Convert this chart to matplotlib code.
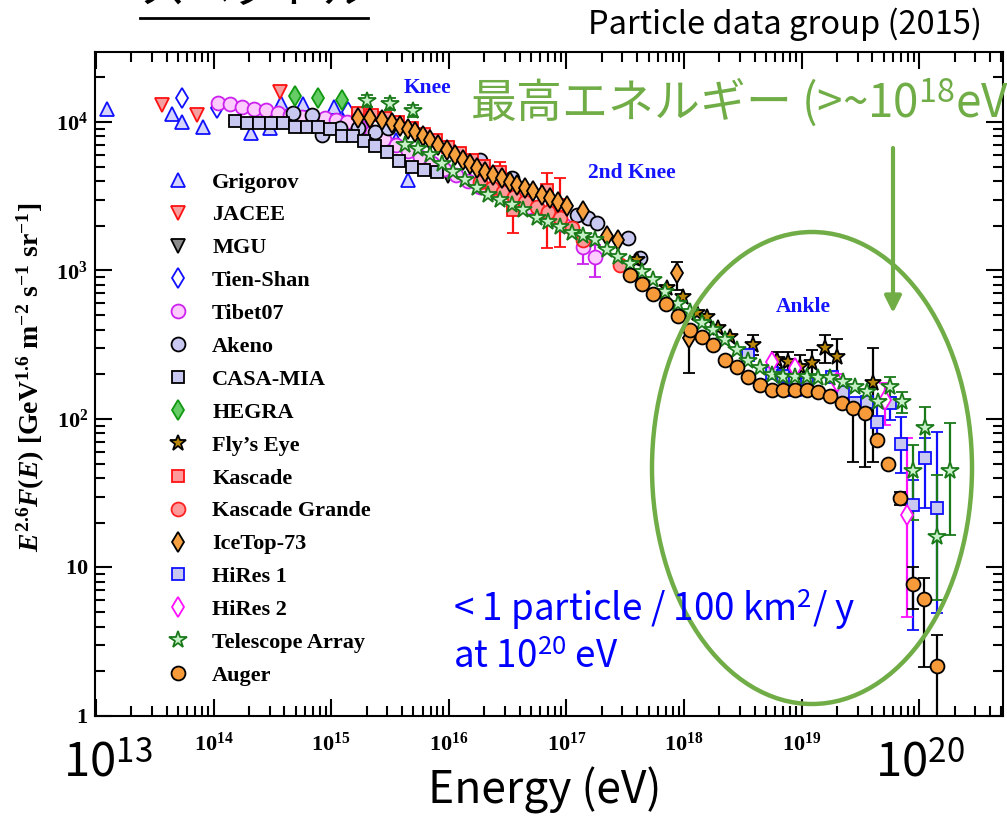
import numpy as np
import matplotlib
matplotlib.use('Agg')
import matplotlib.pyplot as plt
from matplotlib.lines import Line2D
from matplotlib.patches import Ellipse, FancyArrowPatch
from matplotlib.ticker import LogLocator, NullFormatter

plt.rcParams['mathtext.fontset'] = 'custom'
plt.rcParams['mathtext.rm'] = 'Liberation Serif:bold'
plt.rcParams['mathtext.bf'] = 'Liberation Serif:bold'
plt.rcParams['mathtext.it'] = 'Liberation Serif:italic:bold'
plt.rcParams['mathtext.sf'] = 'Noto Sans CJK JP'
plt.rcParams['font.family'] = ['Liberation Serif', 'DejaVu Sans']

nan = np.nan

# ---- data: energy (eV) and E^2.6 F(E) ----
grigorov_E = [1.24e13, 4.4e13, 5.4e13, 8.1e13, 2.08e14, 3.0e14, 3.74e14, 5.75e14, 1.06e15, 1.39e15, 3.56e15, 4.5e15]
grigorov_F = [1.22e4, 1.13e4, 1.0e4, 9.25e3, 8.4e3, 9.1e3, 1.34e4, 1.32e4, 1.26e4, 1.2e4, 7.57e3, 4.07e3]

jacee_E = [3.64e13, 7.2e13, 3.67e14]
jacee_F = [1.30e4, 1.11e4, 1.59e4]

mgu_E = [6.92e15, 9.84e15]
mgu_F = [4.9e3, 4.33e3]

tienshan_E = [5.38e13, 1.07e14, 1.39e15]
tienshan_F = [1.45e4, 1.24e4, 1.17e4]

tibet_E = [1.09e14, 1.38e14, 1.74e14, 2.21e14, 2.79e14, 3.53e14, 4.47e14, 5.65e14, 7.0e14, 8.85e14,
           1.10e15, 1.36e15, 1.76e15, 2.22e15, 2.81e15, 3.56e15, 4.5e15, 5.69e15, 7.2e15, 9.1e15,
           1.15e16, 1.46e16, 1.84e16, 2.33e16, 2.94e16, 3.72e16, 4.71e16, 5.97e16, 7.55e16, 9.55e16,
           1.38e17, 1.75e17]
tibet_F = [1.34e4, 1.32e4, 1.26e4, 1.22e4, 1.20e4, 1.15e4, 1.11e4, 1.08e4, 1.06e4, 1.06e4,
           1.03e4, 1.0e4, 9.25e3, 8.56e3, 7.69e3, 7.0e3, 6.38e3, 5.81e3, 5.3e3, 4.83e3,
           4.4e3, 4.01e3, 3.65e3, 3.38e3, 3.13e3, 2.89e3, 2.68e3, 2.44e3, 2.22e3, 2.02e3,
           1.44e3, 1.23e3]
tibet_lo = [nan] * 30 + [1.11e3, 904]
tibet_hi = [nan] * 30 + [1.71e3, 1.49e3]

akeno_E = [4.73e14, 6.87e14, 8.36e14, 1.19e15, 1.69e15, 2.36e15, 3.04e15, 1.84e16, 3.44e16,
           1.23e17, 1.53e17, 1.82e17, 3.34e17, 4.23e17]
akeno_F = [1.15e4, 1.11e4, 8.17e3, 9.12e3, 9.12e3, 8.56e3, 9.12e3, 5.55e3, 4.2e3,
           2.37e3, 2.26e3, 2.09e3, 1.66e3, 1.21e3]

casa_E = [1.52e14, 1.92e14, 2.43e14, 3.08e14, 3.89e14, 4.92e14, 6.22e14, 7.72e14, 9.77e14,
          1.24e15, 1.53e15, 1.90e15, 2.36e15, 2.98e15, 3.78e15, 4.86e15, 6.15e15, 7.94e15]
casa_F = [1.02e4, 9.85e3, 9.85e3, 9.85e3, 9.85e3, 9.25e3, 9.25e3, 9.25e3, 8.98e3,
          8.05e3, 8.05e3, 7.45e3, 6.89e3, 6.28e3, 5.46e3, 4.98e3, 4.75e3, 4.6e3]

hegra_E = [4.92e14, 7.72e14, 1.24e15]
hegra_F = [1.50e4, 1.45e4, 1.41e4]

flyseye_E = [3.98e17, 7.16e17, 9.8e17, 1.29e18, 1.57e18, 1.95e18, 2.46e18, 3.86e18, 6.18e18,
             7.66e18, 9.7e18, 1.22e19, 1.58e19, 2.0e19, 4.05e19]
flyseye_F = [1180, 762, 663, 517, 486, 410, 357, 315, 250, 242, 224, 238, 301, 262, 175]
flyseye_lo = [nan] * 7 + [270, 221, 207, 186, 195, 238, 189, 51.3]
flyseye_hi = [nan] * 7 + [368, 283, 282, 270, 291, 368, 346, 301]

kascade_E = [1.69e15, 2.22e15, 2.86e15, 3.70e15, 4.86e15, 6.15e15, 7.78e15, 9.84e15, 1.24e16,
             1.57e16, 1.99e16, 2.72e16, 3.52e16, 6.84e16, 8.83e16]
kascade_F = [1.15e4, 1.11e4, 1.06e4, 1.0e4, 9.12e3, 8.3e3, 7.57e3, 6.79e3, 6.18e3,
             5.55e3, 5.06e3, 4.6e3, 2.55e3, 3.48e3, 2.76e3]
kascade_lo = [nan] * 11 + [3.48e3, 1.79e3, 1.42e3, 1.44e3]
kascade_hi = [nan] * 11 + [5.38e3, 2.98e3, 4.54e3, 4.2e3]

kgrande_E = [1.84e16, 2.33e16, 2.89e16, 3.58e16, 4.44e16, 5.62e16, 6.98e16, 8.83e16, 1.12e17, 1.38e17, 2.86e17]
kgrande_F = [3.94e3, 3.59e3, 3.38e3, 3.13e3, 2.89e3, 2.68e3, 2.48e3, 2.26e3, 1.93e3, 1.60e3, 1.09e3]

icetop_E = [1.69e15, 2.14e15, 2.70e15, 3.29e15, 3.85e15, 4.50e15, 5.16e15, 6.04e15, 6.92e15, 8.09e15,
            9.66e15, 1.13e16, 1.32e16, 1.51e16, 1.74e16, 2.03e16, 2.38e16, 2.83e16, 3.31e16, 3.80e16,
            4.45e16, 5.2e16, 6.2e16, 7.26e16, 8.5e16, 1.01e17, 1.38e17, 2.21e17, 2.75e17, 8.73e17, 1.10e18]
icetop_F = [1.06e4, 1.06e4, 1.03e4, 9.85e3, 9.4e3, 8.98e3, 8.56e3, 8.05e3, 7.57e3, 7.0e3,
            6.48e3, 6.0e3, 5.55e3, 5.21e3, 4.9e3, 4.6e3, 4.4e3, 4.2e3, 3.94e3, 3.77e3,
            3.59e3, 3.43e3, 3.22e3, 3.08e3, 2.89e3, 2.72e3, 2.52e3, 1.71e3, 1.60e3, 962, 351]
icetop_lo = [nan] * 29 + [739, 204]
icetop_hi = [nan] * 29 + [1140, 397]

hires1_E = [3.50e18, 5.6e18, 6.95e18, 8.8e18, 1.11e19, 1.82e19, 2.25e19, 2.84e19, 3.60e19,
            4.38e19, 5.65e19, 7.0e19, 8.85e19, 1.12e20, 1.42e20]
hires1_F = [270, 204, 195, 157, 172, 192, 152, 128, 130, 95.4, 128, 67.9, 26.4, 54.6, 25.2]
hires1_lo = [nan] * 9 + [72, 98.5, 43.3, 3.8, 25.2, 4.94]
hires1_hi = [nan] * 9 + [134, 141, 103, 38.8, 75, 81.7]

hires2_E = [5.6e18, 8.8e18, 2.0e19, 5.12e19, 7.87e19]
hires2_F = [242, 220, 178, 134, 22.6]
hires2_lo = [nan, nan, 157, 91, 4.64]
hires2_hi = [nan, nan, 201, 175, 74.5]

ta_E = [2.01e15, 3.16e15, 4.97e15, 4.25e15, 5.47e15, 6.92e15, 8.75e15,
        1.09e16, 1.37e16, 1.74e16, 2.15e16, 2.72e16, 3.44e16, 4.27e16, 5.62e16, 6.98e16, 8.83e16,
        1.12e17, 1.38e17, 1.75e17, 2.21e17, 2.75e17, 3.47e17, 4.40e17, 5.45e17, 6.9e17, 8.9e17,
        1.12e18, 1.42e18, 1.77e18, 2.23e18, 2.83e18, 3.50e18, 4.43e18, 5.6e18, 6.95e18, 8.8e18,
        1.11e19, 1.38e19, 1.74e19, 2.25e19, 2.84e19, 3.60e19, 4.46e19, 5.65e19, 7.14e19, 8.85e19,
        1.12e20, 1.42e20, 1.83e20]
ta_F = [1.38e4, 1.32e4, 1.19e4, 7.0e3, 6.58e3, 6.0e3, 5.21e3,
        4.6e3, 4.07e3, 3.59e3, 3.22e3, 2.98e3, 2.76e3, 2.55e3, 2.26e3, 2.12e3, 1.96e3,
        1.79e3, 1.71e3, 1.60e3, 1.37e3, 1.23e3, 1.11e3, 977, 863, 716, 595,
        526, 443, 397, 340, 292, 246, 220, 198, 192, 192,
        192, 189, 189, 178, 164, 152, 130, 164, 130, 44.7,
        87, 16.0, 44.7]
ta_lo = [1.26e4, 1.20e4, 1.08e4] + [nan] * 41 + [141, 110, 20.9, 57, 6.0, 16.6]
ta_hi = [1.51e4, 1.45e4, 1.31e4] + [nan] * 41 + [192, 152, 66.8, 120, 42, 94]

auger_E = [3.47e17, 4.40e17, 5.45e17, 7.03e17, 8.9e17, 1.12e18, 1.42e18, 1.77e18, 2.23e18, 2.83e18,
           3.50e18, 4.43e18, 5.6e18, 6.95e18, 8.8e18, 1.11e19, 1.38e19, 1.74e19, 2.21e19, 2.74e19,
           3.46e19, 4.38e19, 5.43e19, 6.87e19, 8.85e19, 1.10e20, 1.42e20]
auger_F = [933, 811, 695, 595, 494, 397, 357, 315, 250, 224,
           192, 169, 157, 157, 157, 157, 152, 143, 128, 119,
           110, 72.3, 49.8, 29.4, 7.74, 6.14, 2.17]
auger_lo = [nan] * 19 + [51.3, 47.5, nan, nan, 26.4, 5.26, 2.14, 0.3]
auger_hi = [nan] * 19 + [134, 124, nan, nan, 32.2, 10.1, 8.5, 3.51]

x_major = [1e13, 1e14, 1e15, 1e16, 1e17, 1e18, 1e19, 1e20]
x_labels = ['', r'$10^{14}$', r'$10^{15}$', r'$10^{16}$', r'$10^{17}$', r'$10^{18}$', r'$10^{19}$', '']
y_major = [1, 10, 1e2, 1e3, 1e4]
y_labels = [r'$1$', r'$10$', r'$10^{2}$', r'$10^{3}$', r'$10^{4}$']

# label, E, F, lo, hi, marker, size, face, edge
series = [
    ('Grigorov', grigorov_E, grigorov_F, None, None, '^', 10, '#d4d4ff', '#1010ff'),
    ('JACEE', jacee_E, jacee_F, None, None, 'v', 10, '#f4a0a0', '#ff1010'),
    ('MGU', mgu_E, mgu_F, None, None, 'v', 10, '#8c8c8c', 'black'),
    ('Tien-Shan', tienshan_E, tienshan_F, None, None, 'd', 10, 'white', '#1010ff'),
    ('Tibet07', tibet_E, tibet_F, tibet_lo, tibet_hi, 'o', 10, '#ffccff', '#cc22ee'),
    ('Akeno', akeno_E, akeno_F, None, None, 'o', 10, '#c8c8f0', 'black'),
    ('CASA-MIA', casa_E, casa_F, None, None, 's', 9, '#c8c8f0', 'black'),
    ('HEGRA', hegra_E, hegra_F, None, None, 'd', 10, '#66cc66', '#109910'),
    ('Fly\u2019s Eye', flyseye_E, flyseye_F, flyseye_lo, flyseye_hi, '*', 12, '#b8860b', 'black'),
    ('Kascade', kascade_E, kascade_F, kascade_lo, kascade_hi, 's', 9, '#ff9a9a', '#ff1010'),
    ('Kascade Grande', kgrande_E, kgrande_F, None, None, 'o', 10, '#ff9a9a', '#ff2020'),
    ('IceTop-73', icetop_E, icetop_F, icetop_lo, icetop_hi, 'd', 10, '#f7a040', 'black'),
    ('HiRes 1', hires1_E, hires1_F, hires1_lo, hires1_hi, 's', 9, '#c8c8f0', '#1010ff'),
    ('HiRes 2', hires2_E, hires2_F, hires2_lo, hires2_hi, 'd', 10, 'white', '#ff10ff'),
    ('Telescope Array', ta_E, ta_F, ta_lo, ta_hi, '*', 13, '#c8f0c8', '#1a7a1a'),
    ('Auger', auger_E, auger_F, auger_lo, auger_hi, 'o', 10, '#f79a3a', 'black'),
]

W, H = 1007, 821
fig = plt.figure(figsize=(W / 100, H / 100), dpi=100)
ax = fig.add_axes([95 / W, 1 - 716 / H, (1003 - 95) / W, (716 - 52) / H])


def fx(x):
    return x / W


def fy(y):
    return 1 - y / H


handles = []
for label, E, F, lo, hi, mk, ms, fc, ec in series:
    E = np.array(E, dtype=float)
    F = np.array(F, dtype=float)
    yerr = None
    if lo is not None:
        yerr = np.vstack([F - np.array(lo, dtype=float), np.array(hi, dtype=float) - F])
    ax.errorbar(E, F, yerr=yerr, fmt=mk, ms=ms, mfc=fc, mec=ec, mew=1.3,
                ecolor=ec, elinewidth=1.6, capsize=4, capthick=1.6, ls='none')
    handles.append(Line2D([], [], marker=mk, ms=ms, mfc=fc, mec=ec, mew=1.3, ls='none', label=label))

ax.set_xscale('log')
ax.set_yscale('log')
ax.set_xlim(10 ** 12.992, 10 ** 20.713)
ax.set_ylim(1, 10 ** 4.471)
ax.set_xticks(x_major, x_labels)
ax.set_yticks(y_major, y_labels)
for axis in (ax.xaxis, ax.yaxis):
    axis.set_minor_locator(LogLocator(base=10, subs=np.arange(2, 10), numticks=30))
    axis.set_minor_formatter(NullFormatter())
ax.tick_params(which='both', direction='in', top=True, right=True, width=1.5)
ax.tick_params(which='major', length=12)
ax.tick_params(which='minor', length=7)
ax.tick_params(axis='x', which='major', pad=12, labelsize=16)
ax.tick_params(axis='y', which='major', pad=5, labelsize=16)
for sp in ax.spines.values():
    sp.set_linewidth(1.5)

ax.set_ylabel(r'$E^{2.6}F(E)\ [\mathrm{GeV}^{1.6}\ \mathrm{m}^{-2}\ \mathrm{s}^{-1}\ \mathrm{sr}^{-1}]$', fontsize=20)
ax.yaxis.set_label_coords(-0.053, 0.51)

ax.legend(handles=handles, loc='upper left', bbox_to_anchor=(fx(167), fy(172)),
          bbox_transform=fig.transFigure, frameon=False, borderpad=0, borderaxespad=0,
          handlelength=1.0, handletextpad=1.03, labelspacing=0.555,
          prop=dict(family='Liberation Serif', weight='bold', size=16))

blue = '#1414ff'
fig.text(fx(427), fy(88), 'Knee', color=blue, fontsize=15.5, fontweight='bold', ha='center', va='center')
fig.text(fx(632), fy(173), '2nd Knee', color=blue, fontsize=15.5, fontweight='bold', ha='center', va='center')
fig.text(fx(803), fy(307), 'Ankle', color=blue, fontsize=15.5, fontweight='bold', ha='center', va='center')

# overlay annotations
green = '#70ad47'
sans = ['Noto Sans CJK JP', 'DejaVu Sans']
fig.text(fx(254), fy(15), 'スペクトル', fontsize=33, family=sans, ha='center', va='bottom', color='black')
fig.add_artist(Line2D([fx(140), fx(368)], [fy(18), fy(18)], color='black', lw=2))
fig.text(fx(982), fy(24), 'Particle data group (2015)', fontsize=23.5, family=sans, ha='right', va='center')
fig.text(fx(470), fy(102), '最高エネルギー (>~10$^{\\mathsf{18}}$eV)', fontsize=33, family=sans,
         color=green, ha='left', va='center')
fig.add_artist(FancyArrowPatch((fx(893), fy(148)), (fx(893), fy(313)), transform=fig.transFigure,
                               arrowstyle='-|>', mutation_scale=25, color=green, lw=3,
                               shrinkA=0, shrinkB=0))
fig.add_artist(Ellipse((fx(812), fy(468)), 320 / W, 472 / H, transform=fig.transFigure,
                       fill=False, ec=green, lw=3.2))
fig.text(fx(453), fy(609), '< 1 particle / 100 km$^{\\mathsf{2}}$/ y', fontsize=26.5, family=sans,
         color='#0000ff', ha='left', va='center')
fig.text(fx(453), fy(657), 'at 10$^{\\mathsf{20}}$ eV', fontsize=26.5, family=sans,
         color='#0000ff', ha='left', va='center')
fig.text(fx(108), fy(764), '10$^{\\mathsf{13}}$', fontsize=34, family=sans, ha='center', va='center')
fig.text(fx(920), fy(764), '10$^{\\mathsf{20}}$', fontsize=34, family=sans, ha='center', va='center')
fig.text(fx(545), fy(790), 'Energy (eV)', fontsize=32, family=sans, ha='center', va='center')

fig.savefig('out.png', dpi=100)
